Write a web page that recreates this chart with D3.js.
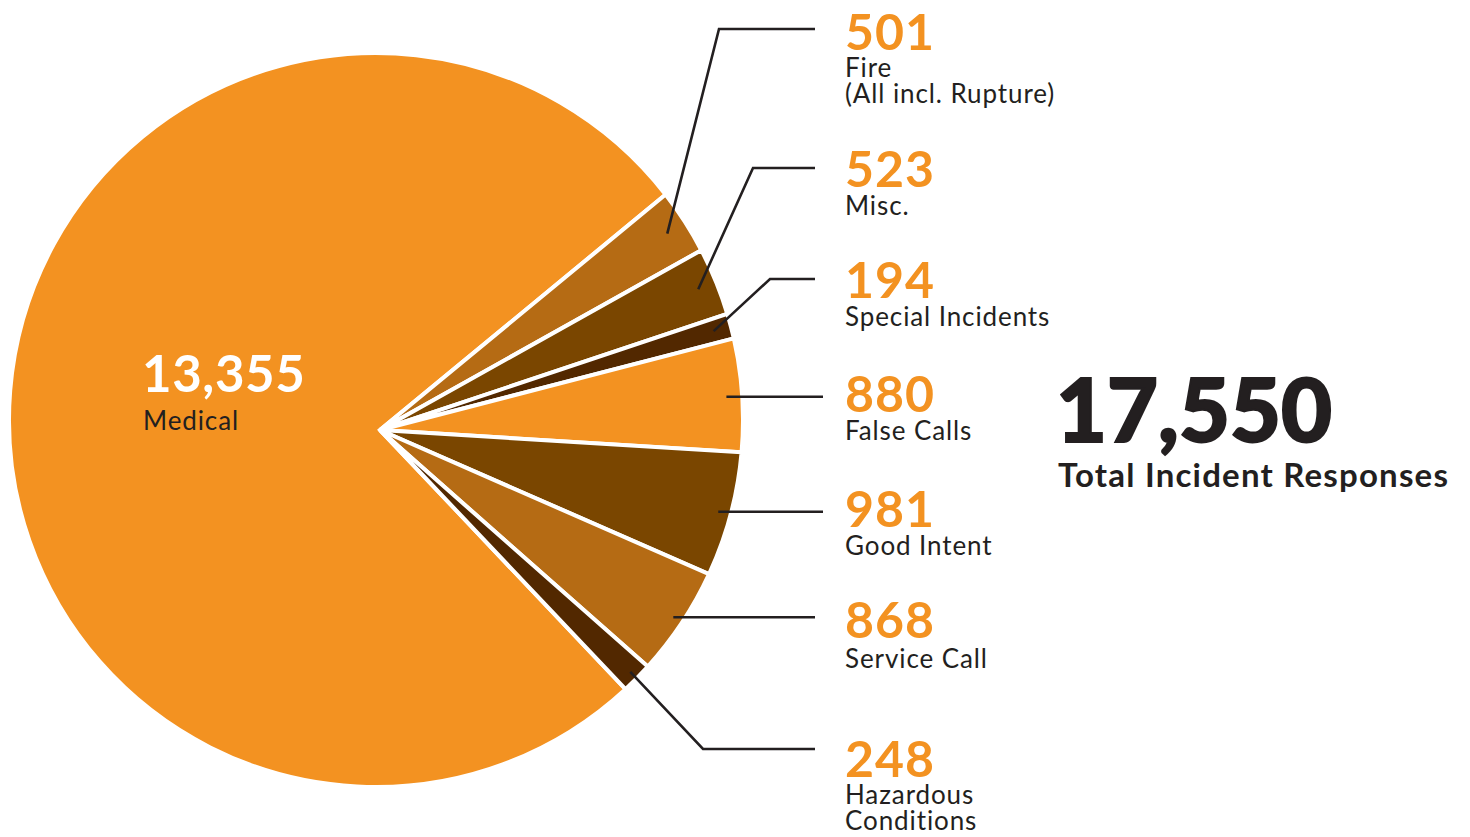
<!DOCTYPE html>
<html>
<head>
<meta charset="utf-8">
<script src="https://cdn.jsdelivr.net/npm/d3@7"></script>
<style>
  html, body { margin: 0; padding: 0; background: #ffffff; }
  svg { display: block; }
</style>
</head>
<body>
<svg id="chart" width="1470" height="837"></svg>
<script>
// ---- data ----
const categories = ["Medical", "Fire", "Misc.", "Special Incidents", "False Calls", "Good Intent", "Service Call", "Hazardous Conditions"];
const values = [13355, 501, 523, 194, 880, 981, 868, 248];
const labelLines = [["Medical"], ["Fire", "(All incl. Rupture)"], ["Misc."], ["Special Incidents"], ["False Calls"], ["Good Intent"], ["Service Call"], ["Hazardous", "Conditions"]];
const totalLabel = "Total Incident Responses";

// ---- styles ----
const sliceColors = ["#F39221", "#B56B14", "#7A4600", "#522800", "#F39221", "#7A4600", "#B56B14", "#522800"];
const orange = "#F39221";
const ink = "#231F20";

// ---- layout (label placement) ----
const apex = [380, 430];          // where the slices meet
const rimCenter = [376, 420];     // centre of the outer rim
const R = 367;
const startDeg = 136.55;
const leaderR = 348;
// per slice (index 1..7): y of the horizontal leader, x of the bend (null = straight), x of line end,
// baseline of the number, baseline of the first text line
const leaderY =    [null, 29, 168, 279, null, null, null, 749];
const bendX =      [null, 719, 753, 770, null, null, null, 703];
const endX =       [null, 815, 815, 815, 823, 823, 815, 815];
const numBase =    [392, 50, 187, 298, 412, 527, 638, 777];
const textBase =   [430, 77, 215, 326, 440, 555, 668, 804];
const labelX = 845;

const svg = d3.select("#chart");
const toRad = d => d * Math.PI / 180;

const pie = d3.pie().sort(null).value(d => d)
  .startAngle(toRad(startDeg)).endAngle(toRad(startDeg) + 2 * Math.PI);
const arcs = pie(values);

function dir(a) { return [Math.sin(a), -Math.cos(a)]; }
function hit(a) {
  const d = dir(a);
  const w = [apex[0] - rimCenter[0], apex[1] - rimCenter[1]];
  const b = w[0] * d[0] + w[1] * d[1];
  const c = w[0] * w[0] + w[1] * w[1] - R * R;
  const t = -b + Math.sqrt(b * b - c);
  return [apex[0] + t * d[0], apex[1] + t * d[1]];
}
function slicePath(a0, a1) {
  const p0 = hit(a0), p1 = hit(a1);
  const t0 = Math.atan2(p0[1] - rimCenter[1], p0[0] - rimCenter[0]);
  const t1 = Math.atan2(p1[1] - rimCenter[1], p1[0] - rimCenter[0]);
  let span = t1 - t0;
  while (span < 0) span += 2 * Math.PI;
  const large = span > Math.PI ? 1 : 0;
  return `M${apex[0]},${apex[1]}L${p0[0]},${p0[1]}A${R},${R} 0 ${large} 1 ${p1[0]},${p1[1]}Z`;
}

svg.append("g").selectAll("path")
  .data(arcs)
  .join("path")
  .attr("d", d => slicePath(d.startAngle, d.endAngle))
  .attr("fill", (d, i) => sliceColors[i])
  .attr("stroke", "#ffffff")
  .attr("stroke-width", 4)
  .attr("stroke-linejoin", "miter");

// leader lines
const fmt = d3.format(",");
const leaders = svg.append("g");
arcs.forEach((d, i) => {
  if (i === 0) return;
  const mid = (d.startAngle + d.endAngle) / 2;
  const dv = dir(mid);
  const s = [apex[0] + leaderR * dv[0], apex[1] + leaderR * dv[1]];
  let pts;
  if (bendX[i] === null) {
    pts = [s, [endX[i], s[1]]];
  } else {
    pts = [s, [bendX[i], leaderY[i]], [endX[i], leaderY[i]]];
  }
  leaders.append("path")
    .attr("d", d3.line()(pts))
    .attr("fill", "none")
    .attr("stroke", ink)
    .attr("stroke-width", 2.6);
});

// labels
const labels = svg.append("g");
arcs.forEach((d, i) => {
  if (i === 0) return;
  labels.append("text")
    .attr("x", labelX).attr("y", numBase[i])
    .attr("font-family", "Lato, sans-serif")
    .attr("font-weight", 700)
    .attr("font-size", 50)
    .attr("letter-spacing", 1)
    .attr("fill", orange)
    .text(fmt(values[i]));
  labelLines[i].forEach((ln, k) => {
    labels.append("text")
      .attr("x", labelX).attr("y", textBase[i] + k * 26)
      .attr("font-family", "Lato, sans-serif")
      .attr("font-weight", 400)
      .attr("font-size", 26)
      .attr("letter-spacing", 0.9)
      .attr("fill", ink)
      .text(ln);
  });
});

// medical label inside pie
labels.append("text")
  .attr("x", 142).attr("y", numBase[0])
  .attr("font-family", "Lato, sans-serif")
  .attr("font-weight", 700)
  .attr("font-size", 51)
  .attr("letter-spacing", 0.6)
  .attr("fill", "#ffffff")
  .text(fmt(values[0]));
labels.append("text")
  .attr("x", 143).attr("y", textBase[0])
  .attr("font-family", "Lato, sans-serif")
  .attr("font-weight", 400)
  .attr("font-size", 26)
  .attr("letter-spacing", 0.9)
  .attr("fill", ink)
  .text(labelLines[0][0]);

// total
labels.append("text")
  .attr("x", 1056).attr("y", 442)
  .attr("font-family", "Lato, sans-serif")
  .attr("font-weight", 900)
  .attr("font-size", 88)
  .attr("fill", ink)
  .attr("stroke", ink).attr("stroke-width", 2)
  .text(fmt(d3.sum(values)));
labels.append("text")
  .attr("x", 1058).attr("y", 487)
  .attr("font-family", "Lato, sans-serif")
  .attr("font-weight", 700)
  .attr("font-size", 33)
  .attr("letter-spacing", 1.2)
  .attr("fill", ink)
  .text(totalLabel);
</script>
</body>
</html>
